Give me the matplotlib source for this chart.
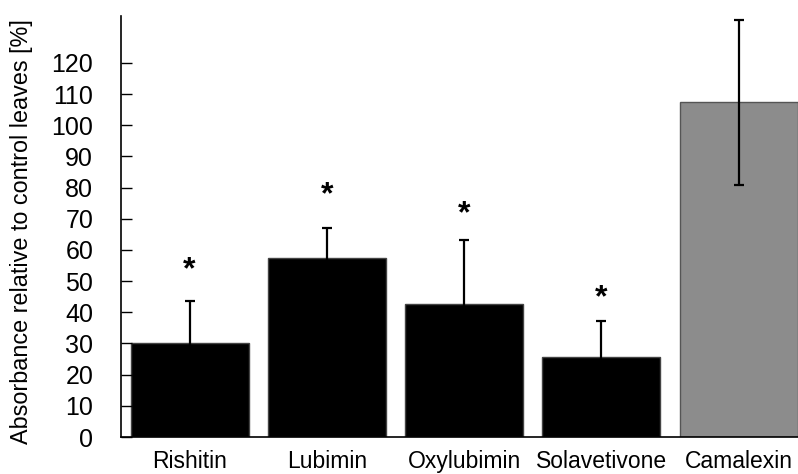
import matplotlib.pyplot as plt

plt.rcParams['font.family'] = ['Liberation Sans', 'DejaVu Sans']

# Werte
compounds = ['Rishitin', 'Lubimin', 'Oxylubimin', 'Solavetivone', 'Camalexin']
absorbance = [30.2, 57.3, 42.6, 25.6, 107.4]
sd = [13.5, 9.6, 20.7, 11.6, 26.5]
# Hoehe der Sternchen (signifikant), None = kein Stern
star_y = [53.5, 77.5, 71.5, 44.5, None]
colors = ['black', 'black', 'black', 'black', '#8c8c8c']
edges = ['#444444', '#444444', '#444444', '#444444', '#555555']

fig = plt.figure(figsize=(7.98, 4.74), dpi=100)
ax = fig.add_axes([0.1516, 0.078, 0.86, 0.888])

x = list(range(len(compounds)))
ax.bar(x, absorbance, width=0.86, color=colors, edgecolor=edges, linewidth=1)
ax.errorbar(x, absorbance, yerr=sd, fmt='none', ecolor='black',
            elinewidth=1.6, capsize=3.5, capthick=1.6)

for i, y in enumerate(star_y):
    if y is not None:
        ax.text(i, y, '*', ha='center', va='center',
                fontsize=23, fontweight='bold')

ax.set_xlim(-0.5, 4.5)
ax.set_ylim(0, 135)
ax.set_yticks(range(0, 130, 10))
ax.set_xticks(x)
ax.set_xticklabels(compounds)
ax.tick_params(axis='y', direction='in', length=8, width=1, pad=20, labelsize=18)
ax.tick_params(axis='x', length=0, pad=9, labelsize=16.5)
ax.set_ylabel('Absorbance relative to control leaves [%]', fontsize=16.8)
ax.yaxis.set_label_coords(-0.128, 0.487)

for side in ['top', 'right']:
    ax.spines[side].set_visible(False)
for side in ['left', 'bottom']:
    ax.spines[side].set_linewidth(1.2)

plt.savefig('out.png', dpi=100)
